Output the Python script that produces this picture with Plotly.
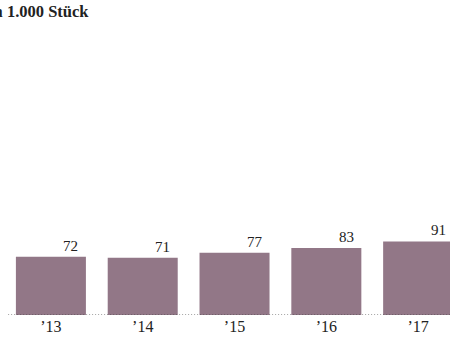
import plotly.graph_objects as go

years = ["’13", "’14", "’15", "’16", "’17"]
values = [72, 71, 77, 83, 91]
value_labels = ["72", "71", "77", "83", "91"]
title_text = "in 1.000 Stück"

bar_color = "#927787"
font_family = "Liberation Serif, Times New Roman, serif"

fig = go.Figure()
fig.add_trace(go.Bar(
    x=list(range(len(years))),
    y=values,
    marker=dict(color=bar_color, line=dict(width=0)),
    hoverinfo="skip",
))

for i, (v, t) in enumerate(zip(values, value_labels)):
    fig.add_annotation(
        x=i, y=v, text=t, showarrow=False,
        xanchor="center", yanchor="bottom", xshift=20, yshift=1,
        font=dict(family=font_family, size=15, color="#222222"),
    )

fig.add_shape(
    type="line", xref="paper", yref="y", x0=0.007, x1=1, y0=0, y1=0,
    line=dict(color="#444444", width=1, dash="1px,2px"),
)

fig.add_annotation(
    xref="paper", yref="paper", x=0, y=1, xshift=-18, yshift=25,
    xanchor="left", yanchor="top", showarrow=False,
    text="<b>" + title_text + "</b>",
    font=dict(family=font_family, size=16.5, color="#222222"),
)

fig.update_layout(
    width=450, height=338,
    margin=dict(l=5, r=0, t=25, b=23),
    paper_bgcolor="white", plot_bgcolor="white",
    showlegend=False,
    bargap=0.2375,
    xaxis=dict(
        range=[-0.5, 4.347],
        tickmode="array", tickvals=list(range(len(years))), ticktext=years,
        showgrid=False, zeroline=False, showline=False, ticks="",
        tickfont=dict(family=font_family, size=16, color="#222222"),
        fixedrange=True,
    ),
    yaxis=dict(
        range=[0, 359], visible=False, showgrid=False, zeroline=False,
        fixedrange=True,
    ),
)

fig.write_html(
    "out.html",
    config={"displayModeBar": False},
    post_script="document.body.style.margin='0';document.body.style.overflow='hidden';",
)
